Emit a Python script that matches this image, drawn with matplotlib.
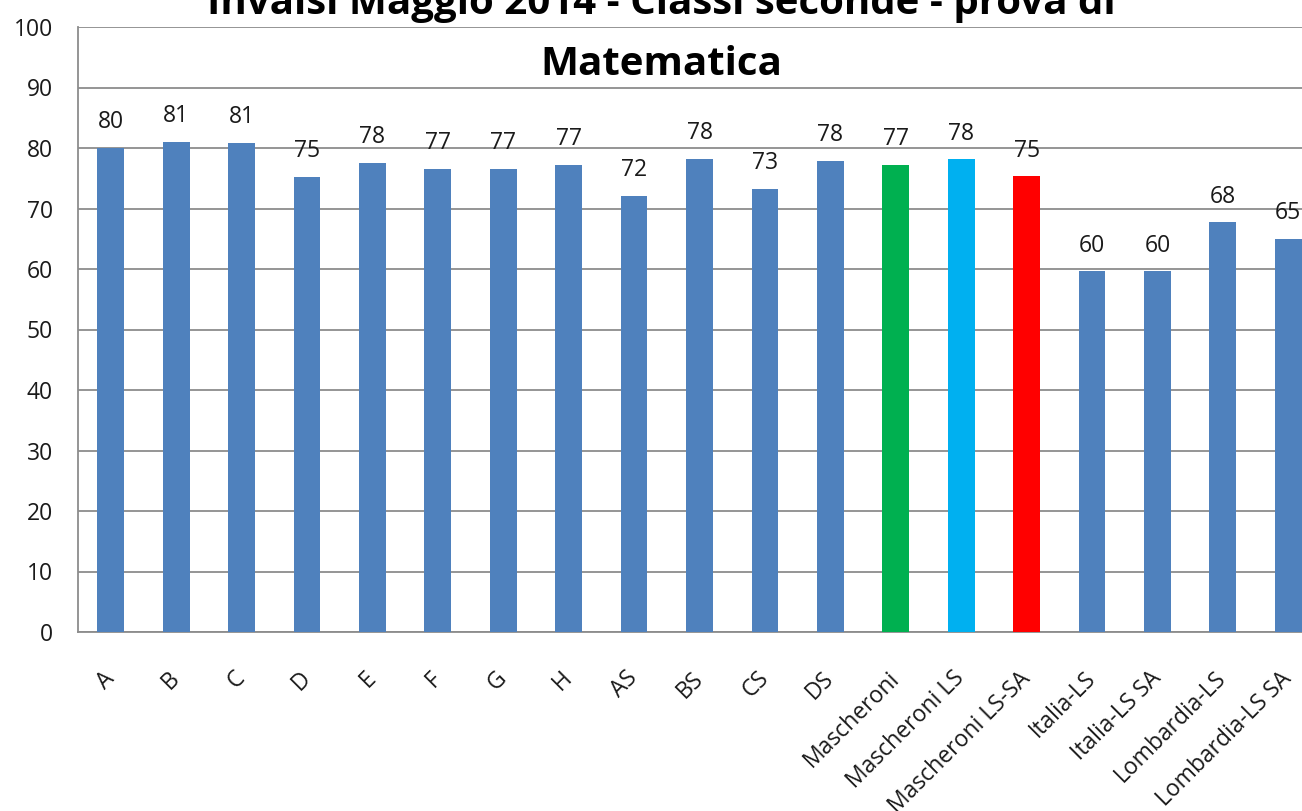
import matplotlib
matplotlib.use("Agg")
import matplotlib.pyplot as plt

categories = ["A", "B", "C", "D", "E", "F", "G", "H", "AS", "BS", "CS", "DS",
              "Mascheroni", "Mascheroni LS", "Mascheroni LS-SA",
              "Italia-LS", "Italia-LS SA", "Lombardia-LS", "Lombardia-LS SA"]
values = [80.0, 81.0, 80.8, 75.2, 77.6, 76.6, 76.6, 77.2, 72.1, 78.2, 73.2, 77.9,
          77.2, 78.1, 75.3, 59.6, 59.6, 67.7, 64.9]
colors = ["#4F81BD"] * 12 + ["#00B050", "#00B0F0", "#FF0000"] + ["#4F81BD"] * 4
title_line1 = "Invalsi Maggio 2014 - Classi seconde - prova di"
title_line2 = "Matematica"
yticks = list(range(0, 101, 10))

plt.rcParams['font.family'] = ['Open Sans', 'DejaVu Sans']

W, H = 1302, 811
fig = plt.figure(figsize=(W / 100, H / 100), dpi=100)
ax = fig.add_axes([78 / W, 1 - 632 / H, (1321 - 78) / W, (632 - 27) / H])

x = list(range(len(categories)))
bars = ax.bar(x, values, width=0.41, color=colors, zorder=3)
ax.bar_label(bars, labels=[f"{v:.0f}" for v in values], padding=10,
             fontsize=16.5, color="#1a1a1a")

ax.set_xlim(-0.5, len(categories) - 0.5)
ax.set_ylim(0, 100)
ax.set_yticks(yticks)
ax.yaxis.grid(True, color="#8c8c8c", linewidth=1.3, zorder=0)
ax.set_axisbelow(True)
for s in ["top", "right"]:
    ax.spines[s].set_visible(False)
for s in ["left", "bottom"]:
    ax.spines[s].set_color("#8c8c8c")
    ax.spines[s].set_linewidth(1.3)

ax.tick_params(axis="y", length=0, pad=18, labelsize=16.5, labelcolor="#1a1a1a")
ax.set_xticks(x)
ax.set_xticklabels(categories, rotation=45, ha="right", va="center",
                   rotation_mode="anchor", fontsize=16.5, color="#1a1a1a")
ax.tick_params(axis="x", length=0, pad=31)

fig.text(661 / W, 1 - 14 / H, title_line1, ha="center", va="baseline",
         fontsize=29, fontweight="bold", color="black")
fig.text(661 / W, 1 - 75 / H, title_line2, ha="center", va="baseline",
         fontsize=29, fontweight="bold", color="black")

fig.savefig("out.png", dpi=100)
